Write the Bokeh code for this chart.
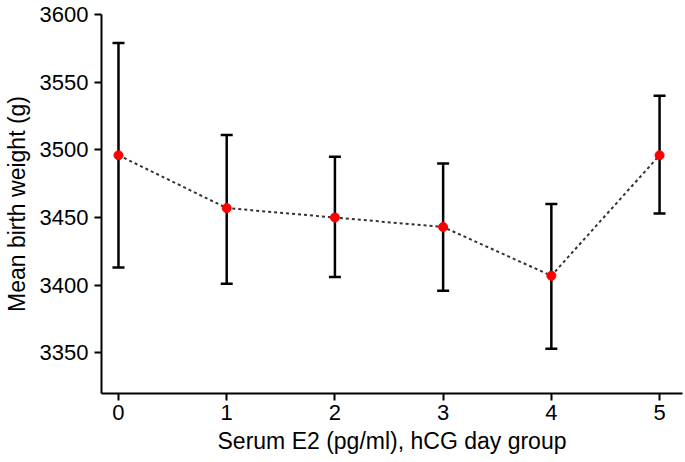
from bokeh.plotting import figure
from bokeh.models import ColumnDataSource, Whisker, TeeHead, FixedTicker, Range1d
from bokeh.embed import file_html
from bokeh.resources import INLINE

groups = [0, 1, 2, 3, 4, 5]
mean_weight = [3496, 3457, 3450, 3443, 3407, 3496]
upper_ci = [3579, 3511, 3495, 3490, 3460, 3540]
lower_ci = [3413, 3401, 3406, 3396, 3353, 3453]
x_ticks = [0, 1, 2, 3, 4, 5]
y_ticks = [3350, 3400, 3450, 3500, 3550, 3600]

src = ColumnDataSource(dict(x=groups, y=mean_weight, up=upper_ci, lo=lower_ci))

p = figure(width=683, height=460, output_backend="svg", toolbar_location=None,
           x_range=Range1d(-0.157, 5.212), y_range=Range1d(3320, 3600),
           min_border_left=100, min_border_right=1, min_border_top=14, min_border_bottom=67)
p.outline_line_color = None
p.xgrid.visible = False
p.ygrid.visible = False

for ax in (p.xaxis[0], p.yaxis[0]):
    ax.axis_line_width = 2
    ax.axis_line_color = "black"
    ax.major_tick_line_width = 2
    ax.major_tick_line_color = "black"
    ax.major_tick_out = 7
    ax.major_tick_in = 0
    ax.minor_tick_line_color = None
    ax.major_label_text_font = "Liberation Sans"
    ax.major_label_text_font_size = "22px"
    ax.major_label_text_color = "black"
    ax.axis_label_text_font = "Liberation Sans"
    ax.axis_label_text_font_size = "23px"
    ax.axis_label_text_font_style = "normal"
    ax.axis_label_text_color = "black"

p.xaxis.ticker = FixedTicker(ticks=x_ticks)
p.yaxis.ticker = FixedTicker(ticks=y_ticks)
p.xaxis.axis_label = "Serum E2 (pg/ml), hCG day group"
p.yaxis.axis_label = "Mean birth weight (g)"
p.xaxis.major_label_standoff = 4
p.yaxis.major_label_standoff = 6
p.xaxis.axis_label_standoff = 5
p.yaxis.axis_label_standoff = 7

w = Whisker(source=src, base="x", upper="up", lower="lo", line_width=2.5, line_color="black",
            upper_head=TeeHead(size=12, line_width=2.5, line_color="black"),
            lower_head=TeeHead(size=12, line_width=2.5, line_color="black"))
p.add_layout(w)

p.line("x", "y", source=src, line_color="#333333", line_width=2, line_dash="3 3")
p.scatter("x", "y", source=src, size=9, fill_color="red", line_color="red")

open("out.html", "w").write(file_html(p, INLINE))
